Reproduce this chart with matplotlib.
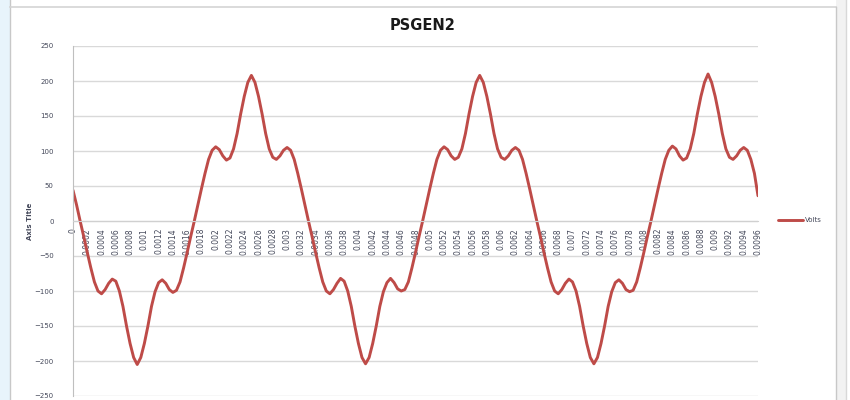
import matplotlib.pyplot as plt
from matplotlib.lines import Line2D
from matplotlib.patches import Rectangle

# category labels on the time axis (every 4th sample is labelled)
tick_labels = [
    "0", "0.0002", "0.0004", "0.0006", "0.0008", "0.001", "0.0012", "0.0014", "0.0016", "0.0018",
    "0.002", "0.0022", "0.0024", "0.0026", "0.0028", "0.003", "0.0032", "0.0034", "0.0036", "0.0038",
    "0.004", "0.0042", "0.0044", "0.0046", "0.0048", "0.005", "0.0052", "0.0054", "0.0056", "0.0058",
    "0.006", "0.0062", "0.0064", "0.0066", "0.0068", "0.007", "0.0072", "0.0074", "0.0076", "0.0078",
    "0.008", "0.0082", "0.0084", "0.0086", "0.0088", "0.009", "0.0092", "0.0094", "0.0096",
]
samples_per_label = 4

# Volts (one value every quarter label step)
volts = [
    44, 23, 0, -22, -45, -67, -87, -100, -104, -98, -89, -83, -86, -100, -122, -150,
    -175, -195, -205, -195, -175, -150, -122, -101, -88, -84, -89, -98, -102, -99, -87, -67,
    -45, -22, 0, 23, 46, 68, 88, 101, 106, 102, 93, 87, 90, 103, 125, 153,
    178, 198, 208, 198, 178, 153, 125, 103, 91, 88, 93, 101, 105, 101, 88, 68,
    46, 23, 0, -22, -45, -67, -87, -100, -104, -98, -89, -82, -86, -100, -122, -150,
    -175, -195, -204, -195, -175, -150, -122, -101, -88, -82, -88, -97, -100, -98, -87, -67,
    -45, -22, 0, 23, 46, 68, 88, 101, 106, 102, 93, 88, 91, 103, 125, 153,
    178, 198, 208, 198, 178, 153, 125, 103, 91, 88, 93, 101, 105, 101, 88, 68,
    46, 23, 0, -22, -45, -67, -87, -100, -104, -98, -89, -83, -87, -100, -122, -150,
    -175, -195, -204, -195, -175, -150, -122, -101, -88, -84, -89, -98, -101, -99, -87, -67,
    -45, -22, 0, 23, 46, 68, 88, 101, 107, 103, 93, 87, 90, 103, 125, 153,
    178, 198, 210, 198, 178, 153, 125, 103, 91, 88, 93, 101, 105, 101, 88, 68,
    36,
]
dt = 0.0002 / samples_per_label
t = [i * dt for i in range(len(volts))]
tick_pos = [i * 0.0002 for i in range(len(tick_labels))]

red = "#be4b48"
txt = "#44485a"

fig = plt.figure(figsize=(8.5, 4), dpi=100)
W, H = 850, 400

def fx(px):
    return px / W

def fy(py):
    return 1 - py / H

# window frame bits around the chart
fig.add_artist(Rectangle((0, 0), fx(10), 1, transform=fig.transFigure,
                         facecolor="#e8f4fb", edgecolor="none"))
fig.add_artist(Line2D([fx(10), fx(10)], [0, 1], transform=fig.transFigure, color="#c8c8c8", lw=1))
fig.add_artist(Line2D([fx(10), fx(836)], [fy(7), fy(7)], transform=fig.transFigure, color="#d4d4d4", lw=1.2))
fig.add_artist(Rectangle((fx(836), 0), fx(10), 1, transform=fig.transFigure,
                         facecolor="#f2f2f2", edgecolor="none"))
fig.add_artist(Line2D([fx(836), fx(836)], [0, fy(7)], transform=fig.transFigure, color="#c8c8c8", lw=1))
fig.add_artist(Line2D([fx(846), fx(846)], [0, 1], transform=fig.transFigure, color="#d8d8d8", lw=1))

ax = fig.add_axes([fx(73), fy(396), fx(758) - fx(73), fy(46) - fy(396)])
ax.plot(t, volts, color=red, lw=2.1, label="Volts", solid_capstyle="round")

ax.set_xlim(0, tick_pos[-1])
ax.set_ylim(-250, 250)
ax.set_yticks(range(-250, 251, 50))
ax.yaxis.grid(True, color="#d9d9d9", lw=1)
ax.set_axisbelow(True)

for s in ["top", "right"]:
    ax.spines[s].set_visible(False)
ax.spines["left"].set_color("#bfbfbf")
ax.spines["bottom"].set_position(("data", 0))
ax.spines["bottom"].set_color("#d0d0d0")

ax.set_xticks(tick_pos)
ax.set_xticklabels(tick_labels, rotation=90, fontsize=5.5, color=txt)
ax.tick_params(axis="x", length=0, pad=5)
ax.tick_params(axis="y", length=0, pad=14, labelsize=5, labelcolor=txt)

ax.set_ylabel("Axis Title", fontsize=5, fontweight="bold", color=txt, labelpad=10)
ax.yaxis.set_label_coords(-0.058, 0.5)

fig.text(fx(423), fy(25), "PSGEN2", ha="center", va="center",
         fontsize=10.5, fontweight="bold", color="#1a1a1a")

fig.legend(loc="center left", bbox_to_anchor=(fx(772), fy(220)), frameon=False,
           fontsize=5, handlelength=3.6, handletextpad=0.3, labelcolor=txt)

fig.savefig("out.png", dpi=100)
